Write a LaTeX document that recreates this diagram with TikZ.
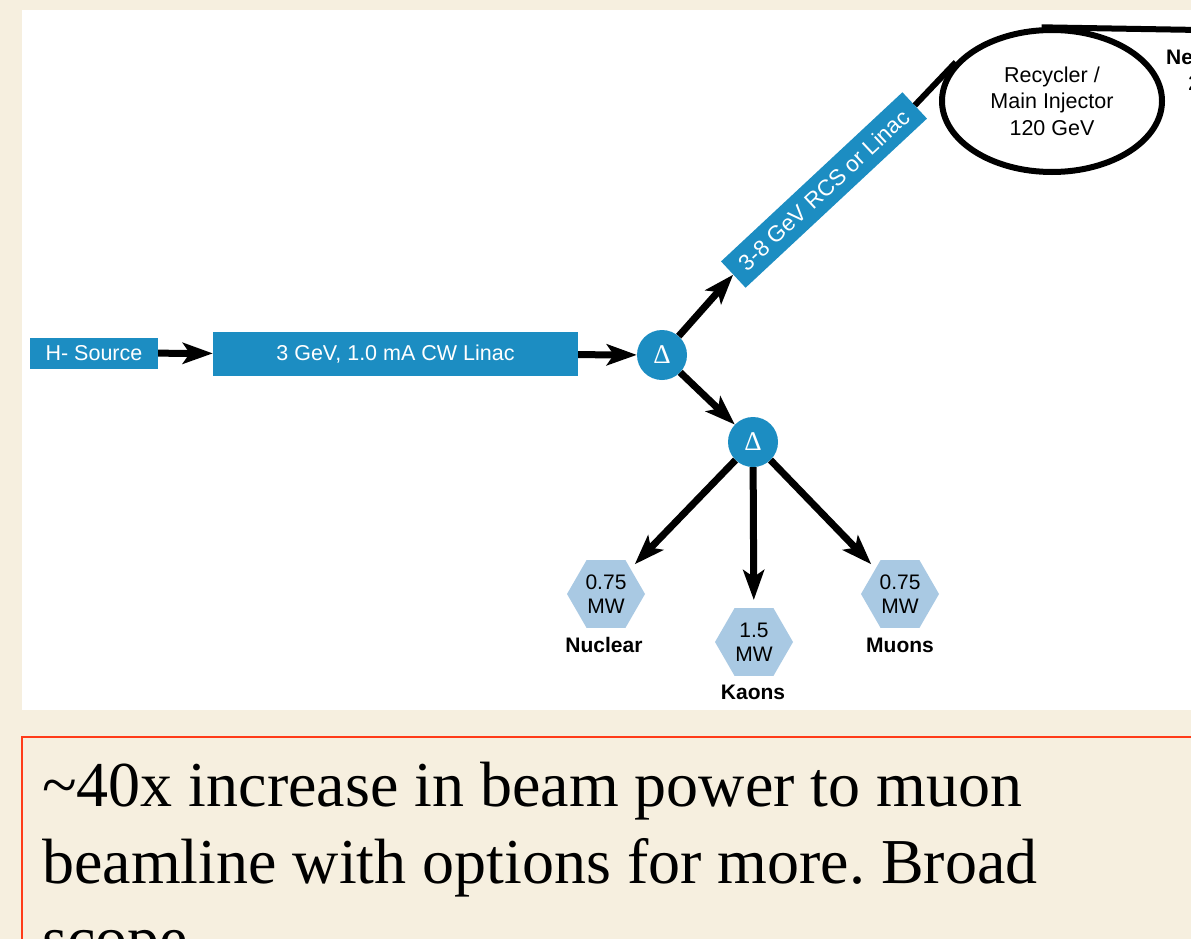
\documentclass[tikz,border=0pt]{standalone}
\usepackage{fontspec}
\setmainfont{Liberation Serif}
\newfontfamily\arial{Liberation Sans}
\usetikzlibrary{positioning,shapes.geometric,arrows.meta}
\frenchspacing

\definecolor{paper}{RGB}{246,239,223}
\definecolor{fnalblue}{RGB}{28,141,194}
\definecolor{hexblue}{RGB}{169,201,227}
\definecolor{boxred}{RGB}{255,59,25}

\begin{document}
\begin{tikzpicture}[
	  x=1pt, y=-1pt,
	  %style for arrows
	  arrw/.style={line width=7pt, -{Stealth[length=30pt,width=21pt,inset=7pt]}},
      % blue boxes of the accelerator chain
      acc/.style={rectangle, fill=fnalblue, text=white, inner sep=0pt,
                  font=\arial\fontsize{21.5}{24}\selectfont},
      % beam splitters
      spl/.style={circle, fill=fnalblue, text=white, minimum size=50pt, inner sep=0pt,
                  font=\rmfamily\fontsize{27}{28}\selectfont},
      % targets with their beam power
      hx/.style={regular polygon, regular polygon sides=6, fill=hexblue,
                 minimum size=78pt, inner sep=0pt, align=center,
                 font=\arial\fontsize{21}{24}\selectfont},
      lbl/.style={font=\arial\bfseries\fontsize{21}{24}\selectfont},
      note/.style={anchor=base west, inner sep=0pt, font=\fontsize{64}{77}\selectfont}]

      % page and panels
      \useasboundingbox (0,0) rectangle (1191,939);
      \clip (0,0) rectangle (1191,939);
      \fill[paper] (0,0) rectangle (1191,939);
      \fill[white] (22,10) rectangle (1220,710);
      \draw[boxred, line width=2pt] (22,737) rectangle (1230,980);

      % accelerator chain
      \node[acc, minimum width=128pt, minimum height=31pt](src) at (94,353){H- Source};
      \node[acc, minimum width=365pt, minimum height=44pt](linac) at (395.5,354){3 GeV, 1.0 mA CW Linac};
      \node[spl](spla) at (662,355){Δ};
      \node[acc, font=\arial\fontsize{22.5}{24}\selectfont, minimum width=248pt,
            minimum height=36pt, rotate=43](rcs) at (824,190){3-8 GeV RCS or Linac};
      \node[ellipse, draw, line width=6pt, minimum width=220pt, minimum height=142pt,
            inner sep=0pt, align=center, font=\arial\fontsize{21.5}{26.5}\selectfont](ring) at (1052,101)
            {Recycler /\\Main Injector\\120 GeV};
      \coordinate (ringout) at (1200,30);
      \node[lbl, anchor=west, inner sep=0pt](ne) at (1166,57){Ne};
      \node[font=\arial\fontsize{21}{24}\selectfont, inner sep=0pt](two) at (1194,83){2};

      % second splitter and targets
      \node[spl](splb) at (753,442){Δ};
      \node[hx](nuc) at (606,594){0.75\\MW};
      \node[hx](kao) at (754,642){1.5\\MW};
      \node[hx](muo) at (900,594){0.75\\MW};
      \node[lbl](nuclbl) at (604,645){Nuclear};
      \node[lbl](kaolbl) at (753,692){Kaons};
      \node[lbl](muolbl) at (900,645){Muons};

      % beam lines
      \draw[arrw] (src) -- (linac);
      \draw[arrw] (linac) -- (spla);
      \draw[arrw] (spla) -- (rcs.west);
      \draw[arrw] (spla) -- (splb);
      \draw[line width=6pt] (rcs.east) -- (ring.158);
      \draw[line width=6pt] (ring.98) -- (ringout);
      \draw[arrw, shorten >=6pt] (splb) -- (nuc);
      \draw[arrw, shorten >=8pt] (splb) -- (kao);
      \draw[arrw, shorten >=6pt] (splb) -- (muo);

      % remark below the diagram
      \node[note](ln1) at (42,806){\textasciitilde40x increase in beam power to muon};
      \node[note](ln2) at (42,883){beamline with options for more. Broad};
      \node[note](ln3) at (42,960){scope.};

\end{tikzpicture}
\end{document}
